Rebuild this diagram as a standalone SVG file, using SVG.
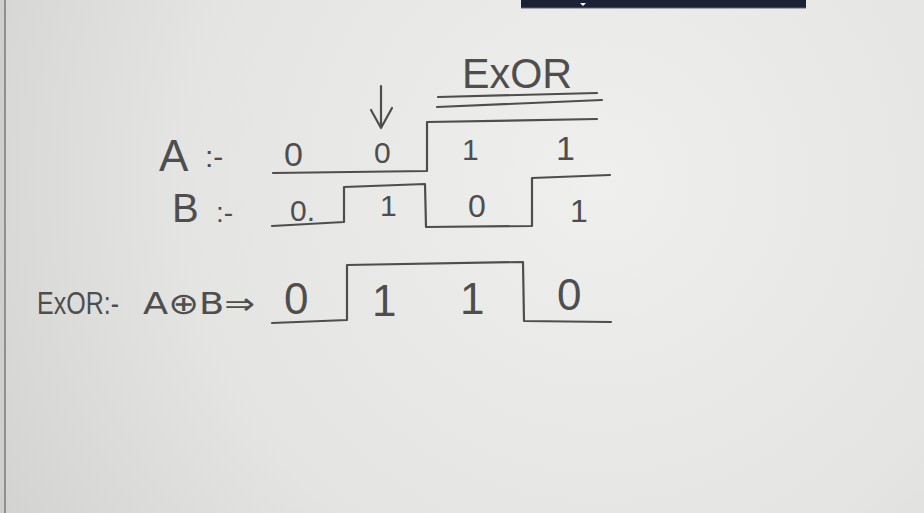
<svg xmlns="http://www.w3.org/2000/svg" width="924" height="513" viewBox="0 0 924 513">
<defs>
<radialGradient id="bg" cx="600" cy="180" r="700" gradientUnits="userSpaceOnUse">
<stop offset="0" stop-color="#efefed"/>
<stop offset="0.6" stop-color="#e4e4e2"/>
<stop offset="1" stop-color="#d2d2d0"/>
</radialGradient>
<style>
.ink{fill:none;stroke:#4e4e4e;stroke-width:2.2;stroke-linecap:round;stroke-linejoin:round}
.t{font-family:"Liberation Sans","DejaVu Sans",sans-serif;fill:#4e4e4e}
.d{font-family:"DejaVu Sans","Liberation Sans",sans-serif;fill:#4e4e4e}
</style>
</defs>
<rect x="0" y="0" width="924" height="513" fill="url(#bg)"/>
<rect x="0" y="0" width="5" height="513" fill="#cfcfcd"/>
<line x1="5" y1="0" x2="5" y2="513" stroke="#7a7a78" stroke-width="1.5"/>
<g id="topbar">
<rect x="521" y="0" width="285" height="8" fill="#1c2236"/>
<line x1="521" y1="8" x2="806" y2="8" stroke="#5a6480" stroke-width="1"/>
<polygon points="580,3 586,3 583,6" fill="#ffffff"/>
</g>
<g id="title">
<text class="t" x="462" y="88" font-size="42" textLength="110" lengthAdjust="spacingAndGlyphs">ExOR</text>
<path class="ink" d="M438,97 L597,93 M437,107 L602,100"/>
</g>
<g id="pointer">
<path class="ink" d="M381,86 L381,128 M371,110 L381,128 L392,108"/>
</g>
<g id="rowA">
<text class="t" x="159" y="171" font-size="44">A</text>
<text class="t" x="205" y="167" font-size="30">:-</text>
<text class="t" x="284" y="166" font-size="34">0</text>
<text class="t" x="374" y="163" font-size="30">0</text>
<text class="t" x="462" y="160" font-size="30">1</text>
<text class="t" x="556" y="160" font-size="34">1</text>
</g>
<g id="rowB">
<text class="t" x="172" y="222" font-size="40">B</text>
<text class="t" x="216" y="222" font-size="28">:-</text>
<text class="t" x="290" y="221" font-size="30">0.</text>
<text class="t" x="380" y="216" font-size="30">1</text>
<text class="t" x="468" y="217" font-size="32">0</text>
<text class="t" x="570" y="222" font-size="32">1</text>
</g>
<g id="rowX">
<text class="t" x="37" y="314" font-size="32" textLength="82" lengthAdjust="spacingAndGlyphs">ExOR:-</text>
<text class="d" x="143" y="314" font-size="30" textLength="112" lengthAdjust="spacingAndGlyphs">A⊕B⇒</text>
<text class="t" x="284" y="314" font-size="44">0</text>
<text class="t" x="372" y="316" font-size="44">1</text>
<text class="t" x="460" y="314" font-size="44">1</text>
<text class="t" x="557" y="310" font-size="44">0</text>
</g>
<g id="connectors">
<path id="waveA" class="ink" d="M273,173 L427,171 L427,122 L597,119"/>
<path id="waveB" class="ink" d="M272,226 L344,222 L344,187 L425,184 L426,227 L532,226 L532,178 L610,175"/>
<path id="waveX" class="ink" d="M272,323 L347,320 L347,265 L523,262 L524,321 L611,322"/>
</g>
</svg>
